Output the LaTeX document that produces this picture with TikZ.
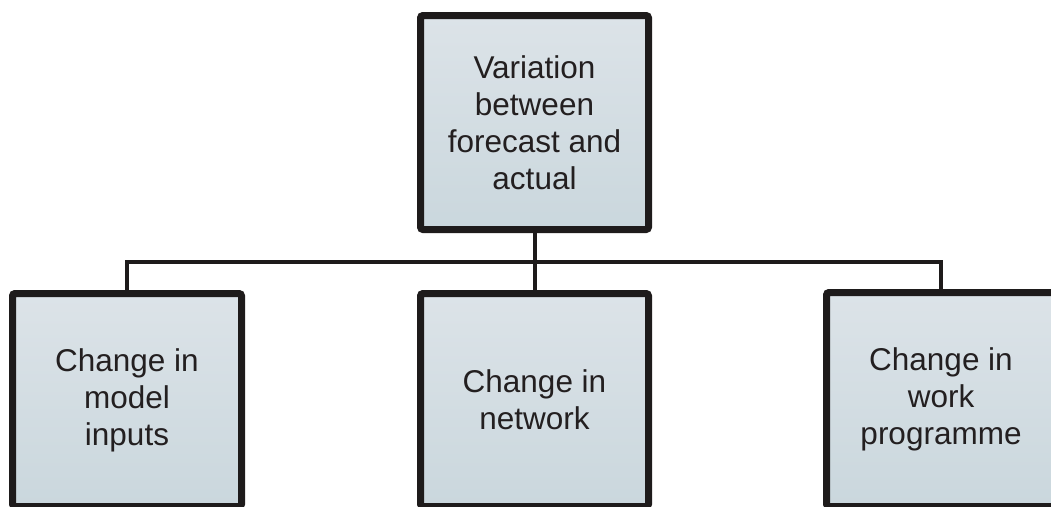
\documentclass[tikz,border=0pt]{standalone}
\usepackage{fontspec}
\setmainfont{Liberation Sans}
\usetikzlibrary{shadows}
\definecolor{edgecol}{HTML}{1E1B1B}
\definecolor{filltop}{HTML}{DCE3E8}
\definecolor{fillbot}{HTML}{CAD7DD}
\definecolor{txtcol}{HTML}{231F20}
\tikzset{
  boxnode/.style={rectangle, draw=edgecol, line width=7pt, rounded corners=2.5pt,
    top color=filltop, bottom color=fillbot, inner sep=0pt, outer sep=0pt,
    align=center, text=txtcol,
    font=\fontsize{31.5}{37}\selectfont,
    drop shadow={opacity=0.18, shadow xshift=1.5pt, shadow yshift=-1.5pt}},
  wire/.style={draw=edgecol, line width=4pt, line join=miter}
}
\begin{document}
\begin{tikzpicture}[x=1pt,y=-1pt]
\useasboundingbox (0,0) rectangle (1051,506);
\clip (0,0) rectangle (1051,506);
\node[boxnode, minimum width=228pt, minimum height=214pt] (top) at (534.5,122.5)
  {Variation\\between\\forecast and\\actual};
\node[boxnode, minimum width=229pt, minimum height=213pt] (left) at (127,400)
  {Change in\\model\\inputs};
\node[boxnode, minimum width=228pt, minimum height=213pt] (mid) at (534.5,400)
  {Change in\\network};
\node[boxnode, minimum width=229pt, minimum height=214pt] (right) at (941,399.5)
  {Change in\\work\\programme};
\coordinate (bus) at (534.5,262);
\draw[wire] (top.south) -- (mid.north);
\draw[wire] (left.north) |- (bus) -| (right.north);
\end{tikzpicture}
\end{document}
